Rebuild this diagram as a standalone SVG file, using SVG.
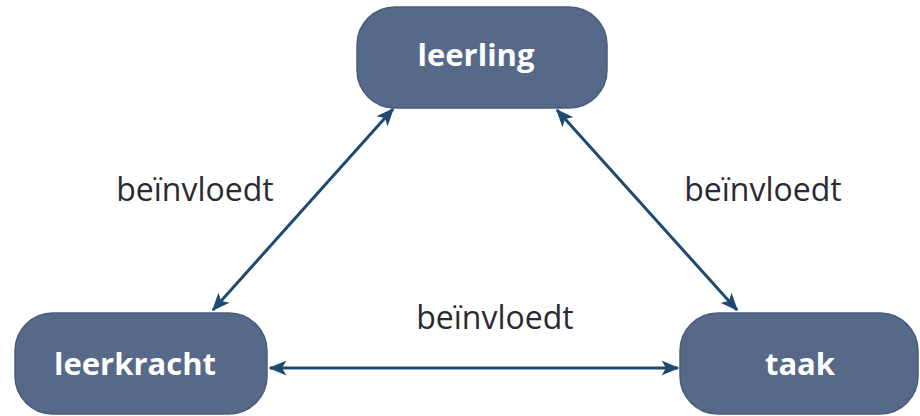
<svg xmlns="http://www.w3.org/2000/svg" width="920" height="416" viewBox="0 0 920 416">
<style>
.node{fill:#566989;stroke:#4a5c7c;stroke-width:1.5}
.nt{font-family:"Open Sans","Liberation Sans",sans-serif;font-weight:bold;font-size:31px;fill:#ffffff;text-anchor:middle}
.lbl{font-family:"Open Sans","Liberation Sans",sans-serif;font-size:32px;fill:#2a2a33;text-anchor:middle}
.edge{stroke:#1e4a72;stroke-width:3;fill:none;marker-start:url(#ah);marker-end:url(#ah)}
</style>
<defs>
<marker id="ah" viewBox="0 0 12 10" refX="11" refY="5" markerWidth="6" markerHeight="5" orient="auto-start-reverse" markerUnits="strokeWidth">
<path d="M0,0 L12,5 L0,10 L3,5 Z" fill="#1e4a72"/>
</marker>
</defs>
<g id="leerling"><rect class="node" x="357" y="7" width="250" height="101" rx="38"/><text class="nt" x="476" y="66">leerling</text></g>
<g id="leerkracht"><rect class="node" x="15" y="313" width="252" height="101" rx="38"/><text class="nt" x="135" y="375">leerkracht</text></g>
<g id="taak"><rect class="node" x="680" y="313" width="238" height="101" rx="38"/><text class="nt" x="800" y="375">taak</text></g>
<g id="connectors">
<line class="edge" x1="213" y1="310" x2="393" y2="109"/>
<line class="edge" x1="557" y1="110" x2="737" y2="310"/>
<line class="edge" x1="270" y1="368" x2="678" y2="368"/>
</g>
<g id="labels">
<text class="lbl" x="195" y="201">beïnvloedt</text>
<text class="lbl" x="763" y="201">beïnvloedt</text>
<text class="lbl" x="495" y="329">beïnvloedt</text>
</g>
</svg>
